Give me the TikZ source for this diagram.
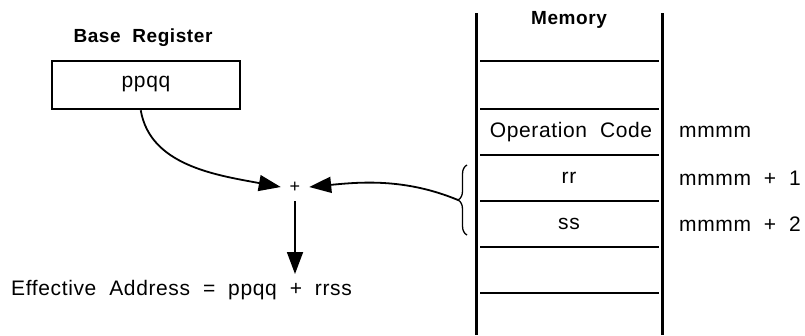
\documentclass[tikz,border=0pt]{standalone}
\usepackage{fontspec}
\setmainfont{Liberation Sans}[LetterSpace=3,WordSpace=2]
\usetikzlibrary{arrows.meta,decorations.pathreplacing}
\begin{document}
\begin{tikzpicture}[x=1pt,y=-1pt,
  txt/.style={font=\fontsize{21}{25}\selectfont, inner sep=0pt},
  ttl/.style={font=\fontsize{19}{22}\selectfont\bfseries, inner sep=0pt},
  conn/.style={line width=1.8pt,-{Triangle[length=22pt,width=16pt]}},
  memv/.style={line width=3pt},
  memh/.style={line width=2pt}]
\useasboundingbox (0,0) rectangle (805,335);
% base register
\node[ttl] (basettl) at (143,38) {Base Register};
\node[draw,line width=2.5pt,minimum width=188pt,minimum height=48pt,inner sep=0pt] (basebox) at (146,85) {};
\node[txt] (ppqq) at (146,84) {ppqq};
% adder
\node[inner sep=0pt,minimum size=28pt,font=\fontsize{18}{20}\selectfont] (plus) at (295,187) {+};
\node[txt,anchor=west] (ea) at (11,290) {Effective Address = ppqq + rrss};
% memory
\coordinate (mlt) at (476,13); \coordinate (mlb) at (476,335);
\coordinate (mrt) at (662,13); \coordinate (mrb) at (662,335);
\draw[memv] (mlt) -- (mlb);
\draw[memv] (mrt) -- (mrb);
\foreach \yy in {61,109,155,201,247,293}{
  \draw[memh] (480,\yy) -- (659,\yy);
}
\node[ttl] (memttl) at (569,20) {Memory};
\node[txt] (opc) at (571,132) {Operation Code};
\node[txt] (rr) at (569,178) {rr};
\node[txt] (ss) at (569,224) {ss};
\node[txt,anchor=west] (a0) at (679,132) {mmmm};
\node[txt,anchor=west] (a1) at (679,178) {mmmm + 1};
\node[txt,anchor=west] (a2) at (679,224) {mmmm + 2};
% brace
\coordinate (bt) at (467,165);
\coordinate (bb) at (467,235);
\draw[line width=1.3pt,decorate,decoration={brace,amplitude=9pt}] (bb) -- (bt);
\coordinate (btip) at (458,200);
\coordinate (dend) at (295,274);
% connectors
\draw[conn] (basebox.south west) ++(90,0) coordinate (bs) .. controls (150,165) and (215,175) .. (plus.west);
\draw[conn] (btip) .. controls (405,178) and (360,182) .. (plus.east);
\draw[conn] (plus.south) -- (dend);
\end{tikzpicture}
\end{document}
